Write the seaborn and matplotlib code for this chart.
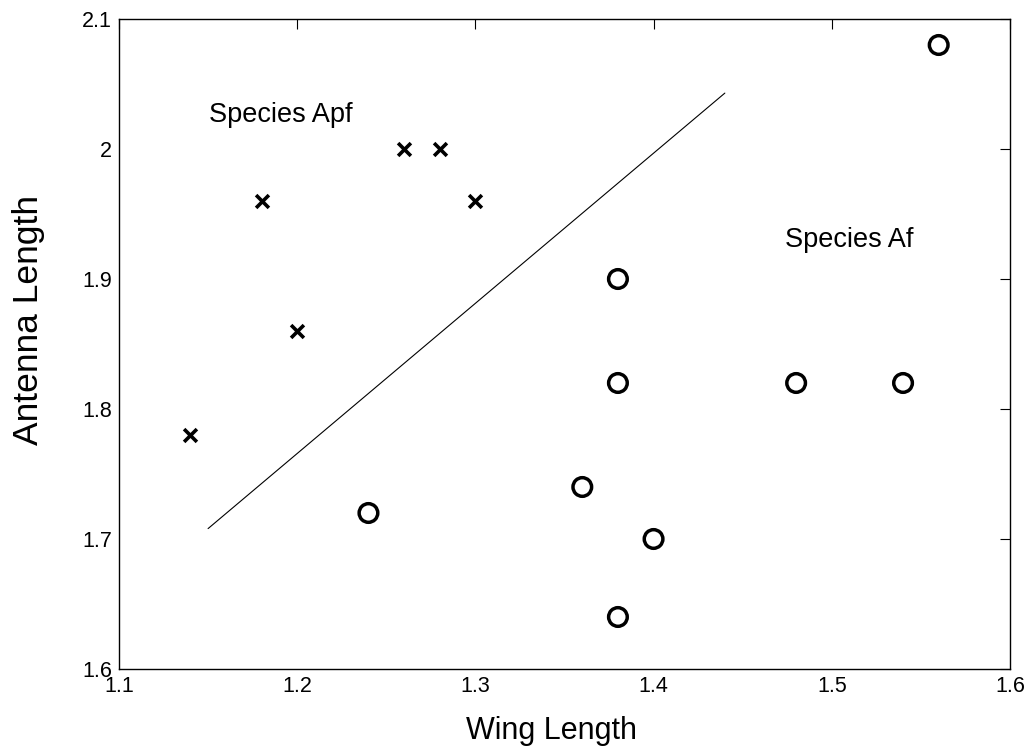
import matplotlib
matplotlib.use("Agg")
import matplotlib.pyplot as plt
import seaborn as sns
import pandas as pd

# Species Apf (crosses)
apf_wing = [1.14, 1.18, 1.20, 1.26, 1.28, 1.30]
apf_antenna = [1.78, 1.96, 1.86, 2.00, 2.00, 1.96]

# Species Af (circles)
af_wing = [1.24, 1.36, 1.38, 1.38, 1.38, 1.40, 1.48, 1.54, 1.56]
af_antenna = [1.72, 1.74, 1.64, 1.82, 1.90, 1.70, 1.82, 1.82, 2.08]

# separating line
line_wing = [1.15, 1.44]
line_antenna = [1.708, 2.043]

x_ticks = [1.1, 1.2, 1.3, 1.4, 1.5, 1.6]
y_ticks = [1.6, 1.7, 1.8, 1.9, 2.0, 2.1]
x_ticklabels = ['1.1', '1.2', '1.3', '1.4', '1.5', '1.6']
y_ticklabels = ['1.6', '1.7', '1.8', '1.9', '2', '2.1']

sns.set_style("white")
plt.rcParams['font.family'] = ['Liberation Sans', 'DejaVu Sans']
plt.rcParams['text.color'] = 'black'
plt.rcParams['axes.labelcolor'] = 'black'

fig = plt.figure(figsize=(10.31, 7.51), dpi=100)
ax = fig.add_axes([0.1154, 0.1092, 0.8642, 0.8655])

apf = pd.DataFrame({'wing': apf_wing, 'antenna': apf_antenna})
af = pd.DataFrame({'wing': af_wing, 'antenna': af_antenna})

sns.lineplot(x=line_wing, y=line_antenna, ax=ax, color='black', linewidth=0.8)
sns.scatterplot(data=apf, x='wing', y='antenna', ax=ax, marker='x', s=85,
                color='black', linewidth=2.6)
sns.scatterplot(data=af, x='wing', y='antenna', ax=ax, marker='o', s=180,
                facecolors='none', edgecolor='black', linewidth=2.5)

ax.text(1.1505, 2.026, 'Species Apf', fontsize=19.5, va='center', ha='left',
        color='black')
ax.text(1.474, 1.930, 'Species Af', fontsize=19.5, va='center', ha='left',
        color='black')

ax.set_xlim(1.1, 1.6)
ax.set_ylim(1.6, 2.1)
ax.set_xticks(x_ticks)
ax.set_xticklabels(x_ticklabels)
ax.set_yticks(y_ticks)
ax.set_yticklabels(y_ticklabels)
ax.tick_params(direction='in', length=7, width=0.8, labelsize=15.5,
               top=True, right=True, colors='black', pad=5)
for s in ax.spines.values():
    s.set_color('black')
    s.set_linewidth(1.0)

ax.set_xlabel('Wing Length', fontsize=22, labelpad=14, color='black')
ax.set_ylabel('Antenna Length', fontsize=25.5, labelpad=27, color='black')
ax.xaxis.label.set_x(0.485)
ax.yaxis.label.set_y(0.537)

plt.savefig('out.png', dpi=100)
